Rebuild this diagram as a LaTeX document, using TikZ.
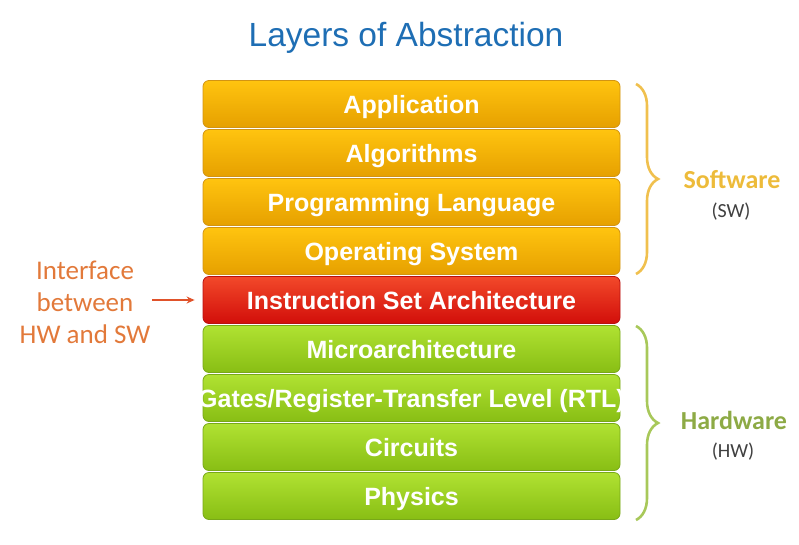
\documentclass[tikz,border=0pt]{standalone}
\usepackage{fontspec}
\setmainfont{Liberation Sans}
\newfontfamily\calib{Carlito}
\usetikzlibrary{decorations.pathreplacing,arrows.meta}
\definecolor{titleblue}{HTML}{1E6EB4}
\definecolor{swtop}{HTML}{FFC40F}
\definecolor{swbot}{HTML}{E6A000}
\definecolor{swedge}{HTML}{D29412}
\definecolor{isatop}{HTML}{F2492A}
\definecolor{isabot}{HTML}{D20E0A}
\definecolor{isaedge}{HTML}{B81010}
\definecolor{hwtop}{HTML}{B0E232}
\definecolor{hwbot}{HTML}{88BE14}
\definecolor{hwedge}{HTML}{78A818}
\definecolor{ifacecol}{HTML}{E2793A}
\definecolor{arrowcol}{HTML}{E0522A}
\definecolor{swbrace}{HTML}{F0C04E}
\definecolor{hwbrace}{HTML}{A8C85A}
\definecolor{swlabel}{HTML}{EDBB3A}
\definecolor{hwlabel}{HTML}{8DAA45}
\definecolor{subtext}{HTML}{404040}
\tikzset{
  layer/.style={minimum width=417pt, minimum height=47pt, inner sep=0pt,
    text height=18pt, text depth=0pt,
    rounded corners=6pt, line width=0.8pt, text=white,
    font=\fontsize{25}{27}\selectfont\bfseries},
  swlayer/.style={layer, top color=swtop, bottom color=swbot, draw=swedge},
  isalayer/.style={layer, top color=isatop, bottom color=isabot, draw=isaedge},
  hwlayer/.style={layer, top color=hwtop, bottom color=hwbot, draw=hwedge},
  bracebar/.style={decorate, decoration={brace, amplitude=22pt}, line width=2.6pt},
}
\begin{document}
\begin{tikzpicture}[x=1pt, y=-1pt]
  \useasboundingbox (0,0) rectangle (799,544);
  \node[font=\fontsize{33.5}{36}\selectfont, text=titleblue] (title) at (406,38) {Layers of Abstraction};

  % stack of abstraction layers
  \node[swlayer]  (app)   at (411.5,104) {Application};
  \node[swlayer]  (alg)   at (411.5,153) {Algorithms};
  \node[swlayer]  (lang)  at (411.5,202) {Programming Language};
  \node[swlayer]  (os)    at (411.5,251) {Operating System};
  \node[isalayer] (isa)   at (411.5,300) {Instruction Set Architecture};
  \node[hwlayer]  (uarch) at (411.5,349) {Microarchitecture};
  % the RTL caption is wider than its box and runs over both edges
  \node[hwlayer]  (rtl)   at (411.5,398) {\makebox[0pt]{Gates/Register-Transfer Level (RTL)}};
  \node[hwlayer]  (circ)  at (411.5,447) {Circuits};
  \node[hwlayer]  (phys)  at (411.5,496) {Physics};

  % interface label and arrow
  \node[align=center, inner sep=0pt, text=ifacecol,
        font=\calib\fontsize{27}{32}\selectfont] (iface) at (85,302)
        {Interface\\between\\HW and SW};
  \draw[arrowcol, line width=1.6pt, -{Stealth[length=8pt,width=7pt]},
        shorten <=2pt, shorten >=8pt] (iface.east |- isa.west) -- (isa.west);

  % software / hardware braces
  \coordinate (swtopc) at (636,84);
  \coordinate (swbotc) at (636,274);
  \coordinate (hwtopc) at (636,326);
  \coordinate (hwbotc) at (636,520);
  \draw[bracebar, swbrace] (swtopc) -- (swbotc);
  \draw[bracebar, hwbrace] (hwtopc) -- (hwbotc);

  \node[text=swlabel, font=\calib\bfseries\fontsize{26}{28}\selectfont] (sw) at (732,180) {Software};
  \node[text=subtext, font=\calib\fontsize{20}{22}\selectfont] (swab) at (731,212) {(SW)};
  \node[text=hwlabel, font=\calib\bfseries\fontsize{26}{28}\selectfont] (hw) at (734,420) {Hardware};
  \node[text=subtext, font=\calib\fontsize{20}{22}\selectfont] (hwab) at (733,452) {(HW)};
\end{tikzpicture}
\end{document}
